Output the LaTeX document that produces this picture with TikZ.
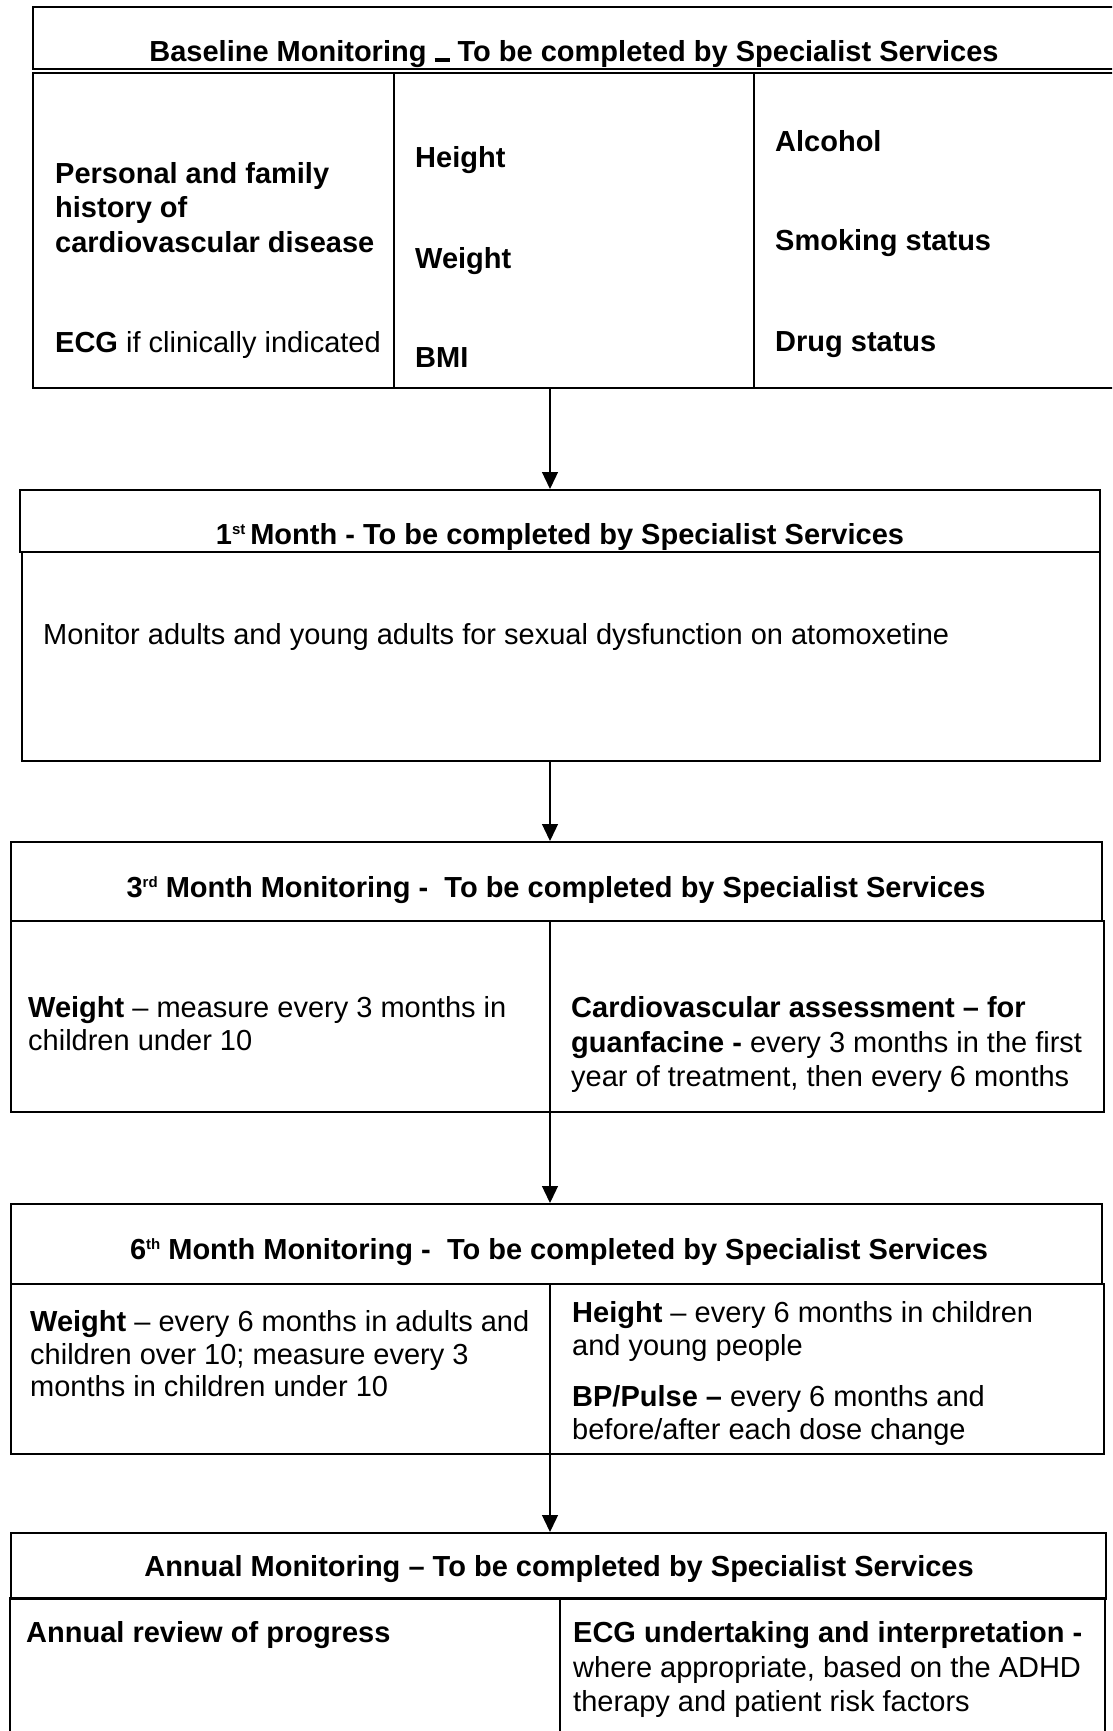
\documentclass[tikz,border=0pt]{standalone}
\usepackage{fontspec}
\setmainfont{Liberation Sans}
\usetikzlibrary{arrows.meta,calc}
\newcommand{\supx}[1]{\raisebox{10pt}{\fontsize{15}{15}\selectfont #1}}
\begin{document}
\begin{tikzpicture}[x=1pt,y=-1pt,
  font=\fontsize{29}{33.5}\selectfont,
  boxline/.style={draw=black,line width=2pt},
  divline/.style={draw=black,line width=1.5pt},
  txt/.style={anchor=base west,inner sep=0pt},
  ttl/.style={anchor=base,inner sep=0pt,font=\fontsize{29}{33.5}\selectfont\bfseries},
  arr/.style={draw=black,line width=1.3pt,-{Triangle[width=16pt,length=17pt]}}]
\useasboundingbox (0,0) rectangle (1112,1731);
\clip (0,0) rectangle (1112,1731);
\fill[white] (0,0) rectangle (1112,1731);
\coordinate (ax) at (550,0);

% ---------- Box 1: Baseline ----------
\draw[boxline] (33,7) rectangle (1118,69);
\draw[boxline] (33,73) rectangle (1118,388);
\node[inner sep=0pt] (b1head) at (575.5,38) {};
\node[inner sep=0pt,minimum width=1085pt,minimum height=315pt] (b1body) at (575.5,230.5) {};
\draw[divline] (394,73) -- (394,388);
\draw[divline] (754,73) -- (754,388);
\node[ttl] (t1) at (574,62) {Baseline Monitoring \rule{15pt}{3.5pt} To be completed by Specialist Services};
\node[txt] (c1a) at (55,184) {\bfseries Personal and family};
\node[txt] (c1b) at (55,218) {\bfseries history of};
\node[txt] (c1c) at (55,252) {\bfseries cardiovascular disease};
\node[txt] (c1d) at (55,352) {\textbf{ECG} if clinically indicated};
\node[txt] (c2a) at (415,168) {\bfseries Height};
\node[txt] (c2b) at (415,268) {\bfseries Weight};
\node[txt] (c2c) at (415,367) {\bfseries BMI};
\node[txt] (c3a) at (775,152) {\bfseries Alcohol};
\node[txt] (c3b) at (775,250) {\bfseries Smoking status};
\node[txt] (c3c) at (775,351) {\bfseries Drug status};

% ---------- Box 2: 1st month ----------
\node[boxline,inner sep=0pt,minimum width=1080pt,minimum height=62pt,anchor=north west] (b2head) at (19,489) {};
\node[boxline,inner sep=0pt,minimum width=1078pt,minimum height=209pt,anchor=north west] (b2body) at (21,551) {};
\node[ttl] (t2) at (560,544) {1\supx{st}\,Month - To be completed by Specialist Services};
\node[txt] (m1) at (43,644) {Monitor adults and young adults for sexual dysfunction on atomoxetine};

% ---------- Box 3: 3rd month ----------
\node[boxline,inner sep=0pt,minimum width=1091pt,minimum height=79pt,anchor=north west] (b3head) at (10,841) {};
\node[boxline,inner sep=0pt,minimum width=1093pt,minimum height=191pt,anchor=north west] (b3body) at (10,920) {};
\draw[divline] (550,920) -- (550,1111);
\node[ttl] (t3) at (556,897) {3\supx{rd} Month Monitoring -\ \ To be completed by Specialist Services};
\node[txt] (w3a) at (28,1017) {\textbf{Weight} – measure every 3 months in};
\node[txt] (w3b) at (28,1050) {children under 10};
\node[txt] (v3a) at (571,1017) {\bfseries Cardiovascular assessment – for};
\node[txt] (v3b) at (571,1052) {\textbf{guanfacine -} every 3 months in the first};
\node[txt] (v3c) at (571,1086) {year of treatment, then every 6 months};

% ---------- Box 4: 6th month ----------
\node[boxline,inner sep=0pt,minimum width=1091pt,minimum height=80pt,anchor=north west] (b4head) at (10,1203) {};
\node[boxline,inner sep=0pt,minimum width=1093pt,minimum height=170pt,anchor=north west] (b4body) at (10,1283) {};
\draw[divline] (550,1283) -- (550,1453);
\node[ttl] (t4) at (559,1259) {6\supx{th} Month Monitoring -\ \ To be completed by Specialist Services};
\node[txt] (w4a) at (30,1331) {\textbf{Weight} – every 6 months in adults and};
\node[txt] (w4b) at (30,1364) {children over 10; measure every 3};
\node[txt] (w4c) at (30,1396) {months in children under 10};
\node[txt] (h4a) at (572,1322) {\textbf{Height} – every 6 months in children};
\node[txt] (h4b) at (572,1355) {and young people};
\node[txt] (h4c) at (572,1406) {\textbf{BP/Pulse –} every 6 months and};
\node[txt] (h4d) at (572,1439) {before/after each dose change};

% ---------- Box 5: Annual ----------
\node[boxline,inner sep=0pt,minimum width=1095pt,minimum height=66pt,anchor=north west] (b5head) at (10,1532) {};
\draw[boxline] (10,1745) -- (10,1598) -- (1105,1598) -- (1105,1745);
\node[inner sep=0pt,minimum width=1095pt,minimum height=140pt,anchor=north west] (b5body) at (10,1598) {};
\draw[divline] (560,1598) -- (560,1745);
\node[ttl] (t5) at (559,1576) {Annual Monitoring – To be completed by Specialist Services};
\node[txt] (a5a) at (26,1642) {\bfseries Annual review of progress};
\node[txt] (e5a) at (573,1642) {\bfseries ECG undertaking and interpretation -};
\node[txt] (e5b) at (573,1677) {where appropriate, based on the ADHD};
\node[txt] (e5c) at (573,1711) {therapy and patient risk factors};

% ---------- Arrows ----------
\draw[arr] (b1body.south -| ax) -- (b2head.north -| ax);
\draw[arr] (b2body.south -| ax) -- (b3head.north -| ax);
\draw[arr] (b3body.south -| ax) -- (b4head.north -| ax);
\draw[arr] (b4body.south -| ax) -- (b5head.north -| ax);
\end{tikzpicture}
\end{document}
